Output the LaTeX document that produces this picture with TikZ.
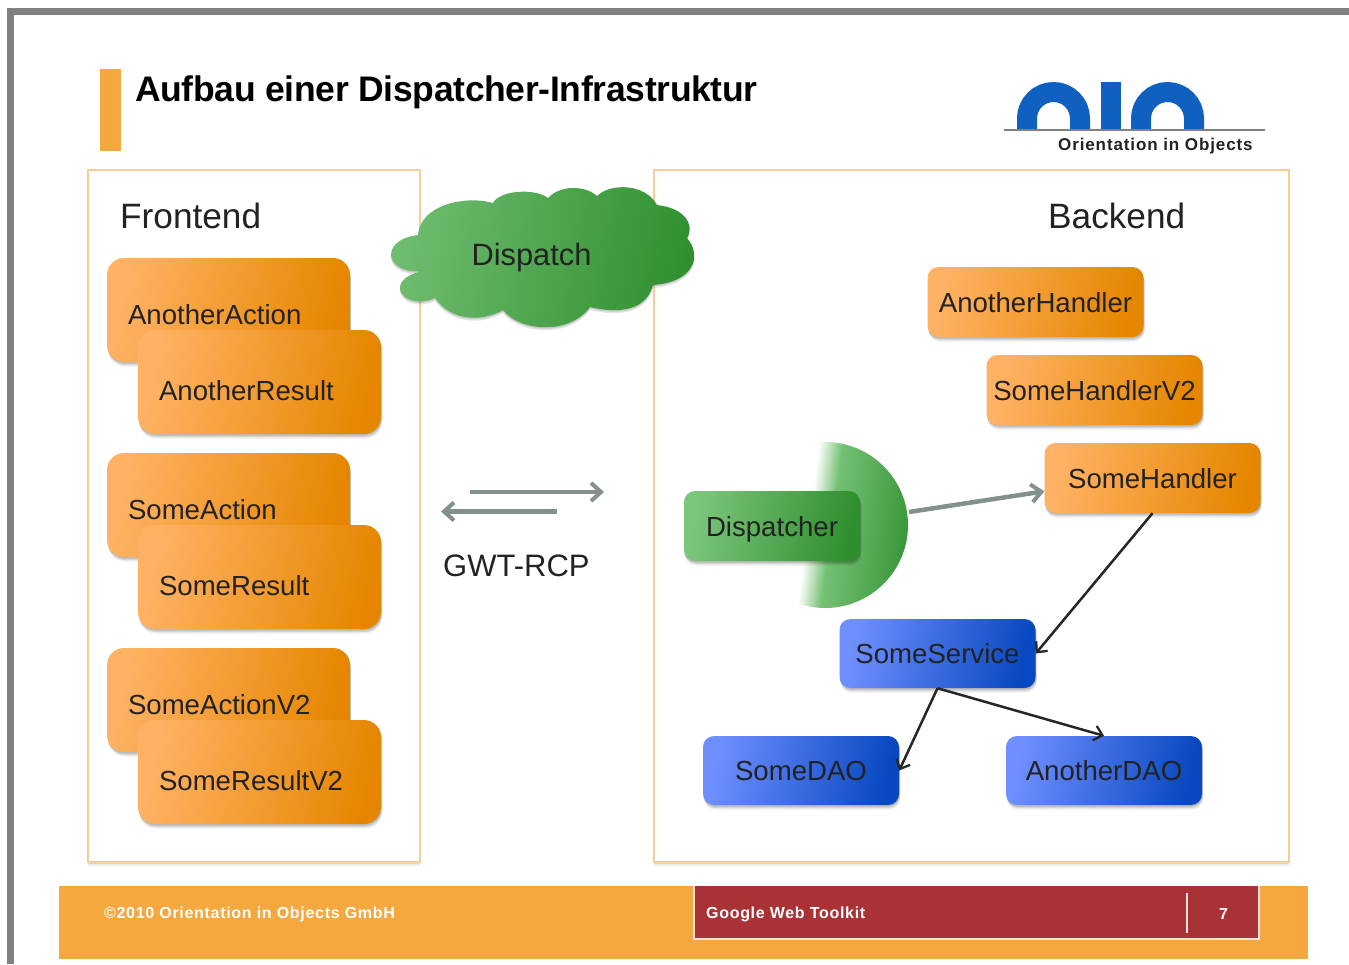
\documentclass[tikz,border=0pt]{standalone}
\usepackage{fontspec}
\setmainfont{Liberation Sans}
\usetikzlibrary{shadows,arrows.meta,calc}
\definecolor{barorange}{HTML}{F5A83D}
\definecolor{panelline}{HTML}{F8CC96}
\definecolor{oL}{HTML}{FFB264}
\definecolor{oM}{HTML}{F6A030}
\definecolor{oR}{HTML}{E68600}
\definecolor{gL}{HTML}{7CC67C}
\definecolor{gM}{HTML}{55AB55}
\definecolor{gR}{HTML}{2F8F2F}
\definecolor{bL}{HTML}{6F8FFF}
\definecolor{bM}{HTML}{4469EE}
\definecolor{bR}{HTML}{0848C0}
\definecolor{oioblue}{HTML}{1060C0}
\definecolor{arrowgrey}{HTML}{83918A}
\definecolor{footred}{HTML}{A93237}
\definecolor{ink}{HTML}{222222}
\pgfdeclarehorizontalshading{discfade}{100bp}{color(0bp)=(white); color(32bp)=(white); color(41bp)=(gL!90!gR); color(72bp)=(gR!90!gL); color(100bp)=(gR)}
\newcommand{\fs}[1]{\fontsize{#1}{#1}\selectfont}
\tikzset{
  softshadow/.style={
    drop shadow={shadow xshift=1pt,shadow yshift=-4.5pt,fill=black,opacity=.07},
    drop shadow={shadow xshift=1pt,shadow yshift=-3pt,fill=black,opacity=.10},
    drop shadow={shadow xshift=.5pt,shadow yshift=-1.5pt,fill=black,opacity=.12}},
  basebox/.style={rectangle,rounded corners=11pt,softshadow,inner xsep=0pt,inner ysep=0pt,
    text height=20pt,text depth=0pt,text=ink,font=\fs{27.6},align=center},
  orangebox/.style={basebox,left color=oL,middle color=oM,right color=oR,shading angle=78,minimum width=216pt,minimum height=70pt},
  greenbox/.style={basebox,left color=gL,middle color=gM,right color=gR,shading angle=78,minimum width=176pt,minimum height=70pt},
  bluebox/.style={basebox,left color=bL,middle color=bM,right color=bR,shading angle=78,minimum width=196pt,minimum height=69pt},
  stackbox/.style={basebox,left color=oL,middle color=oM,right color=oR,shading angle=78,rounded corners=17pt,
    minimum width=243pt,minimum height=104pt,inner xsep=21pt,text width=201pt,align=left},
  actionbox/.style={stackbox,text height=29pt},
  resultbox/.style={stackbox,text height=36pt},
  panelbox/.style={rectangle,draw=panelline,line width=2.5pt,fill=white,
    drop shadow={shadow xshift=0pt,shadow yshift=-4pt,fill=black,opacity=.07},
    drop shadow={shadow xshift=0pt,shadow yshift=-2pt,fill=black,opacity=.08}},
  headtext/.style={font=\fs{35.2},text=ink,inner sep=0pt},
  greyflow/.style={draw=arrowgrey,line width=4.5pt,-{Straight Barb[length=10pt,width=18pt,line width=4pt]}},
  blackflow/.style={draw=black!85,line width=2.5pt,-{Straight Barb[length=8pt,width=15pt,line width=2.3pt]}},
  foot/.style={text=white,font=\fs{16}\bfseries\addfontfeature{LetterSpace=4.3},inner sep=0pt,anchor=base west},
}
\begin{document}
\begin{tikzpicture}[x=1pt,y=-1pt]
\useasboundingbox (0,0) rectangle (1349,964);
% frame
\fill[black!50] (7,8) rectangle (1349,15);
\fill[black!50] (7,8) rectangle (14,964);
% title
\fill[barorange] (100,69) rectangle (121,151);
\node[anchor=base west,inner sep=0pt,font=\fs{35.5}\bfseries,text=black] (title) at (135,101) {\addfontfeature{LetterSpace=-0.9}Aufbau einer Dispatcher-Infrastruktur};
% logo
\begin{scope}[draw=oioblue,line width=20pt]
\draw (1027,129) -- (1027,118.5) arc[start angle=180,end angle=360,radius=26.5] -- (1080,129);
\draw (1110.5,82) -- (1110.5,129);
\draw (1141,129) -- (1141,118.5) arc[start angle=180,end angle=360,radius=26.5] -- (1194,129);
\end{scope}
\fill[white] (1000,131) rectangle (1280,140);
\draw[black!50,line width=2pt] (1004,130) -- (1265,130);
\node[anchor=base west,inner sep=0pt,font=\fs{17}\bfseries,text=ink] (oio) at (1058,150) {\addfontfeature{LetterSpace=5.2}Orientation in Objects};
% panels
\node[panelbox,minimum width=332pt,minimum height=692pt] (front) at (254,516) {};
\node[panelbox,minimum width=635pt,minimum height=692pt] (back) at (971.5,516) {};
\node[headtext,anchor=base west] (ftitle) at (120,228) {Frontend};
\node[headtext,anchor=base west] (btitle) at (1048,228) {Backend};
% cloud
\path[left color=gL!85!gR,middle color=gM,right color=gR,shading angle=78,
  drop shadow={shadow xshift=0pt,shadow yshift=-3pt,fill=black,opacity=.1},
  drop shadow={shadow xshift=0pt,shadow yshift=-1.5pt,fill=black,opacity=.12}]
  (418,235) .. controls (420,205) and (465,195) .. (493,203)
  .. controls (500,190) and (535,188) .. (548,198)
  .. controls (560,185) and (585,185) .. (597,196)
  .. controls (610,183) and (645,183) .. (657,205)
  .. controls (685,208) and (695,225) .. (687,238)
  .. controls (702,255) and (695,282) .. (653,285)
  .. controls (645,315) and (610,312) .. (590,307)
  .. controls (570,335) and (520,332) .. (503,310)
  .. controls (480,323) and (450,320) .. (435,298)
  .. controls (405,312) and (380,280) .. (423,271)
  .. controls (385,275) and (378,240) .. (418,235) -- cycle;
\node[inner sep=0pt,font=\fs{30.8},text=ink,text height=22pt,text depth=0pt] (dispatch) at (531.5,254) {Dispatch};
% left stacks
\node[actionbox] (aa) at (228.5,310) {AnotherAction};
\node[resultbox] (ar) at (259.5,382) {AnotherResult};
\node[actionbox] (sa) at (228.5,505) {SomeAction};
\node[resultbox] (sr) at (259.5,577) {SomeResult};
\node[actionbox] (sav) at (228.5,700) {SomeActionV2};
\node[resultbox] (srv) at (259.5,772) {SomeResultV2};
% GWT
\coordinate (ga1) at (470,492);
\coordinate (ga2) at (604,492);
\coordinate (gb1) at (557,511.5);
\coordinate (gb2) at (441,511.5);
\draw[greyflow] (ga1) -- (ga2);
\draw[greyflow] (gb1) -- (gb2);
\node[inner sep=0pt,font=\fs{31},text=ink,anchor=base west] (gwt) at (443,576) {GWT-RCP};
% handlers
\node[orangebox] (ah) at (1035.5,302) {AnotherHandler};
\node[orangebox] (shv) at (1094.5,390) {SomeHandlerV2};
\node[orangebox] (hd) at (1152.5,478) {SomeHandler};
% dispatcher
\begin{scope}
\clip (825,525) circle[radius=83];
\shade[shading=discfade,transform canvas={rotate around={-7.6:(820,525)}}] (790,420) rectangle (920,630);
\end{scope}
\coordinate (discr) at (909,512);
\node[greenbox] (dp) at (772,526) {Dispatcher};
% services
\node[bluebox] (ss) at (937.5,653.5) {SomeService};
\node[bluebox] (sd) at (801,770.5) {SomeDAO};
\node[bluebox] (ad) at (1104,770.5) {AnotherDAO};
% connectors
\draw[greyflow] (discr) -- (hd.187);
\draw[blackflow] (hd.south) -- (ss.east);
\draw[blackflow] (ss.south) -- (sd.east);
\draw[blackflow] (ss.south) -- (ad.north);
% footer
\fill[barorange] (59,886) rectangle (1308,959);
\path[fill=footred,draw=white!85!footred,line width=2pt] (694,886) -- (694,939) -- (1259,939) -- (1259,886);
\fill[footred] (695,887) rectangle (1258,938);
\draw[white!85!footred,line width=2pt] (1187,893) -- (1187,933);
\node[foot] (copy) at (104,918) {©2010 Orientation in Objects GmbH};
\node[foot] (gwtk) at (706,918) {Google Web Toolkit};
\node[foot] (page) at (1219,919) {7};
\end{tikzpicture}
\end{document}
